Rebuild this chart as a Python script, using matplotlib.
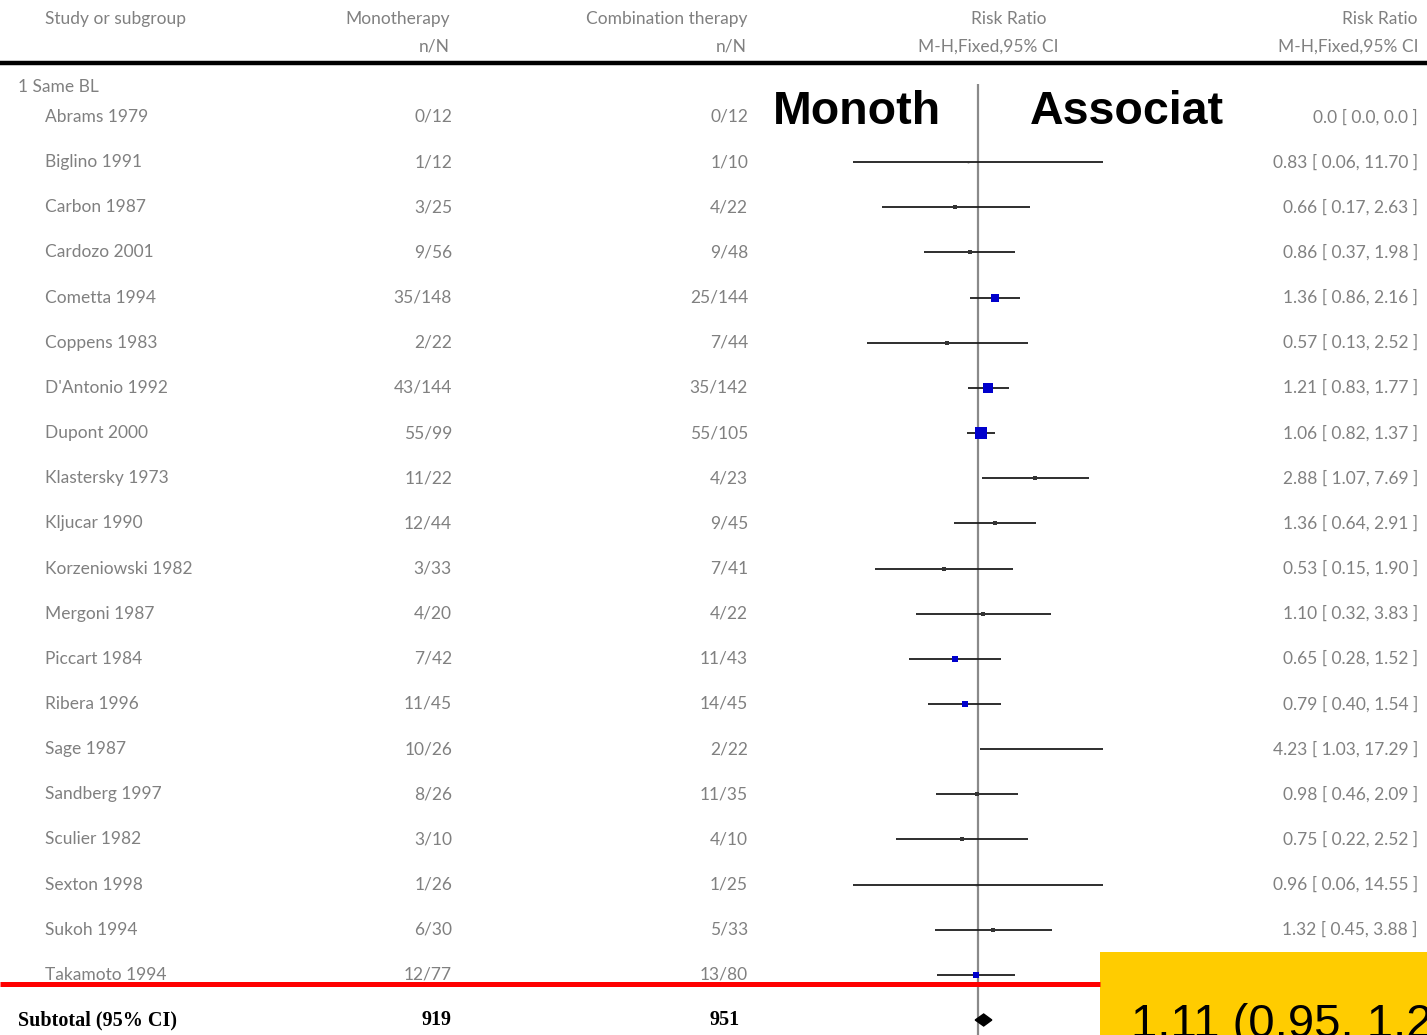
import matplotlib
matplotlib.use('Agg')
import matplotlib.pyplot as plt
import numpy as np
from matplotlib.patches import Rectangle, Polygon

# ---------------- data ----------------
subgroup = "1 Same BL"
studies = ["Abrams 1979", "Biglino 1991", "Carbon 1987", "Cardozo 2001", "Cometta 1994",
           "Coppens 1983", "D'Antonio 1992", "Dupont 2000", "Klastersky 1973", "Kljucar 1990",
           "Korzeniowski 1982", "Mergoni 1987", "Piccart 1984", "Ribera 1996", "Sage 1987",
           "Sandberg 1997", "Sculier 1982", "Sexton 1998", "Sukoh 1994", "Takamoto 1994"]
mono_events = [0, 1, 3, 9, 35, 2, 43, 55, 11, 12, 3, 4, 7, 11, 10, 8, 3, 1, 6, 12]
mono_total = [12, 12, 25, 56, 148, 22, 144, 99, 22, 44, 33, 20, 42, 45, 26, 26, 10, 26, 30, 77]
comb_events = [0, 1, 4, 9, 25, 7, 35, 55, 4, 9, 7, 4, 11, 14, 2, 11, 4, 1, 5, 13]
comb_total = [12, 10, 22, 48, 144, 44, 142, 105, 23, 45, 41, 22, 43, 45, 22, 35, 10, 25, 33, 80]
rr = [0.0, 0.83, 0.66, 0.86, 1.36, 0.57, 1.21, 1.06, 2.88, 1.36,
      0.53, 1.10, 0.65, 0.79, 4.23, 0.98, 0.75, 0.96, 1.32, 0.96]
ci_low = [0.0, 0.06, 0.17, 0.37, 0.86, 0.13, 0.83, 0.82, 1.07, 0.64,
          0.15, 0.32, 0.28, 0.40, 1.03, 0.46, 0.22, 0.06, 0.45, 0.47]
ci_high = [0.0, 11.70, 2.63, 1.98, 2.16, 2.52, 1.77, 1.37, 7.69, 2.91,
           1.90, 3.83, 1.52, 1.54, 17.29, 2.09, 2.52, 14.55, 3.88, 1.97]
pooled_rr, pooled_low, pooled_high = 1.11, 0.95, 1.29
pooled_label = "1.11 (0.95, 1.29)"
left_label, right_label = "Monoth", "Associat"
xlim_rr = (0.1, 10)

# ---------------- layout ----------------
W, H = 1427, 1035
fig = plt.figure(figsize=(W / 100, H / 100), dpi=100)

tax = fig.add_axes([0, 0, 1, 1], zorder=0)
tax.set_xlim(0, W); tax.set_ylim(H, 0); tax.axis('off')

fx0, fx1 = 853, 1103
fax = fig.add_axes([fx0 / W, 0, (fx1 - fx0) / W, 1], zorder=1)
fax.set_xscale('log'); fax.set_xlim(*xlim_rr); fax.set_ylim(H, 0); fax.axis('off')
fax.patch.set_alpha(0)

oax = fig.add_axes([0, 0, 1, 1], zorder=2)
oax.set_xlim(0, W); oax.set_ylim(H, 0); oax.axis('off'); oax.patch.set_alpha(0)

y0, step = 117, 45.15
row_y = [y0 + step * i for i in range(len(studies))]
sub_y = y0 + step * len(studies)

gray = '#808080'
tf = dict(family='Lato', fontweight='normal', color=gray, fontsize=12.5)

# header
tax.text(45, 19, "Study or subgroup", ha='left', va='center', **tf)
tax.text(450, 19, "Monotherapy", ha='right', va='center', **tf)
tax.text(450, 47, "n/N", ha='right', va='center', **tf)
tax.text(747, 19, "Combination therapy", ha='right', va='center', **tf)
tax.text(747, 47, "n/N", ha='right', va='center', **tf)
tax.text(1009, 19, "Risk Ratio", ha='center', va='center', **tf)
tax.text(988, 47, "M-H,Fixed,95% CI", ha='center', va='center', **tf)
tax.text(1417, 19, "Risk Ratio", ha='right', va='center', **tf)
tax.text(1418, 47, "M-H,Fixed,95% CI", ha='right', va='center', **tf)
tax.plot([0, W], [62.5, 62.5], color='black', lw=3.2, solid_capstyle='butt')
tax.text(18, 87, subgroup, ha='left', va='center', **tf)

# rows
for i, name in enumerate(studies):
    y = row_y[i]
    tax.text(45, y, name, ha='left', va='center', **tf)
    tax.text(452, y, f"{mono_events[i]}/{mono_total[i]}", ha='right', va='center', **tf)
    tax.text(748, y, f"{comb_events[i]}/{comb_total[i]}", ha='right', va='center', **tf)
    if rr[i] == 0:
        lab = "0.0 [ 0.0, 0.0 ]"
    else:
        lab = f"{rr[i]:.2f} [ {ci_low[i]:.2f}, {ci_high[i]:.2f} ]"
    tax.text(1418, y, lab, ha='right', va='center', **tf)

# subtotal row
sf = dict(family='Liberation Serif', fontweight='bold', color='black', fontsize=14.5)
tax.text(18, sub_y, "Subtotal (95% CI)", ha='left', va='center', **sf)
tax.text(452, sub_y, f"{sum(mono_total)}", ha='right', va='center', **sf)
tax.text(740, sub_y, f"{sum(comb_total)}", ha='right', va='center', **sf)

# forest
fax.vlines(1, 84, H, color='#8a8a8a', lw=1.6, zorder=1)
for i in range(len(studies)):
    if rr[i] <= 0:
        continue
    y = row_y[i]
    fax.plot([ci_low[i], ci_high[i]], [y, y], color='#1e1e1e', lw=1.3,
             solid_capstyle='butt', zorder=2)
    w = comb_events[i] * mono_total[i] / (mono_total[i] + comb_total[i])
    side_px = 2.2 * np.sqrt(w)
    col = '#0000cc' if w >= 5 else '#333333'
    fax.plot([rr[i]], [y], marker='s', ms=side_px * 0.72, color=col,
             mec=col, mew=0, zorder=3)
dh = 6
fax.add_patch(Polygon([(pooled_low, sub_y), (pooled_rr, sub_y - dh),
                       (pooled_high, sub_y), (pooled_rr, sub_y + dh)],
                      closed=True, color='black', zorder=3))

# overlay annotations
bf = dict(family='Liberation Sans', fontweight='bold', color='black', fontsize=33.5)
oax.text(773, 124, left_label, ha='left', va='baseline', **bf)
oax.text(1030, 124, right_label, ha='left', va='baseline', **bf)
oax.plot([0, 1100], [984, 984], color='#ff0000', lw=3.6, solid_capstyle='butt')
oax.add_patch(Rectangle((1100, 952), W - 1100, H - 952, color='#ffcc00', lw=0))
oax.text(1131, 1037, pooled_label, ha='left', va='baseline',
         family='Liberation Sans', fontsize=34, color='black')

fig.savefig('out.png', dpi=100)
